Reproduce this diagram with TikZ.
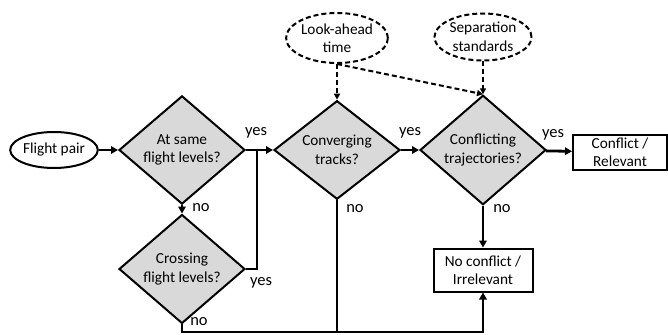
\documentclass[tikz,border=0pt]{standalone}
\usepackage{fontspec}
\setmainfont{Carlito}
\usetikzlibrary{shapes.geometric,arrows.meta}
\definecolor{decgray}{HTML}{D9D9D9}

\begin{document}
\begin{tikzpicture}[x=1pt,y=-1pt,font=\fontsize{15.3}{18.5}\selectfont,
    decision/.style={diamond,draw,line width=2pt,fill=decgray,inner sep=0pt,minimum width=126,minimum height=90,align=center},
    outcome/.style={rectangle,draw,line width=2pt,inner sep=2pt,align=center},
    param/.style={ellipse,draw,line width=2pt,dash pattern=on 5pt off 3pt,inner sep=0pt,align=center},
    flow/.style={line width=2.8pt,-{Triangle[length=7pt,width=7.5pt]}},
    infl/.style={line width=2pt,dash pattern=on 5pt off 3pt,-{Triangle[length=6pt,width=6pt]}},
    lbl/.style={inner sep=0pt,font=\fontsize{16.5}{18}\selectfont}]
    \useasboundingbox (0,0) rectangle (668,334);
    \node[ellipse,draw,line width=2pt,minimum width=85,minimum height=36,inner sep=0pt] (pair) at (54,150) {Flight pair};
    \node[decision] (same) at (182,150) {At same\\flight levels?};
    \node[decision] (cross) at (182,269) {Crossing\\flight levels?};
    \node[decision] (conv) at (337,150) {Converging\\tracks?};
    \node[decision] (confl) at (483,150) {Conflicting\\trajectories?};
    \node[outcome,minimum width=94,minimum height=35] (rel) at (620,152) {Conflict /\\Relevant};
    \node[outcome,minimum width=99,minimum height=43] (irrel) at (483,270) {No conflict /\\Irrelevant};
    \node[param,minimum width=99,minimum height=50] (look) at (337,38) {Look-ahead\\time};
    \node[param,minimum width=97,minimum height=47] (sep) at (483,37) {Separation\\standards};
    \coordinate (join) at (257,150);
    \coordinate (bot) at (483,332);

    \draw[flow] (pair) -- (same);
    \draw[flow] (same) -- (conv);
    \draw[flow] (same) -- (cross);
    \draw[line width=2.8pt] (cross.east) -| (join);
    \draw[flow] (conv) -- (confl);
    \draw[flow] (confl) -- (rel);
    \draw[flow] (confl) -- (irrel);
    \draw[flow] (cross.south) |- (bot) -- (irrel.south);
    \draw[line width=2.8pt] (conv.south) -- (conv.south |- bot);
    \draw[infl] (look.south) -- (conv.north);
    \draw[infl] (look.south) -- (confl.north);
    \draw[infl] (sep.south) -- (confl.north);

    \node[lbl] (yes1) at (256,133) {yes};
    \node[lbl] (no1) at (201,208) {no};
    \node[lbl] (yes2) at (261,283) {yes};
    \node[lbl] (no2) at (199,322) {no};
    \node[lbl] (yes3) at (410,133) {yes};
    \node[lbl] (no3) at (355,209) {no};
    \node[lbl] (yes4) at (553,135) {yes};
    \node[lbl] (no4) at (502,209) {no};
  \end{tikzpicture}
\end{document}
